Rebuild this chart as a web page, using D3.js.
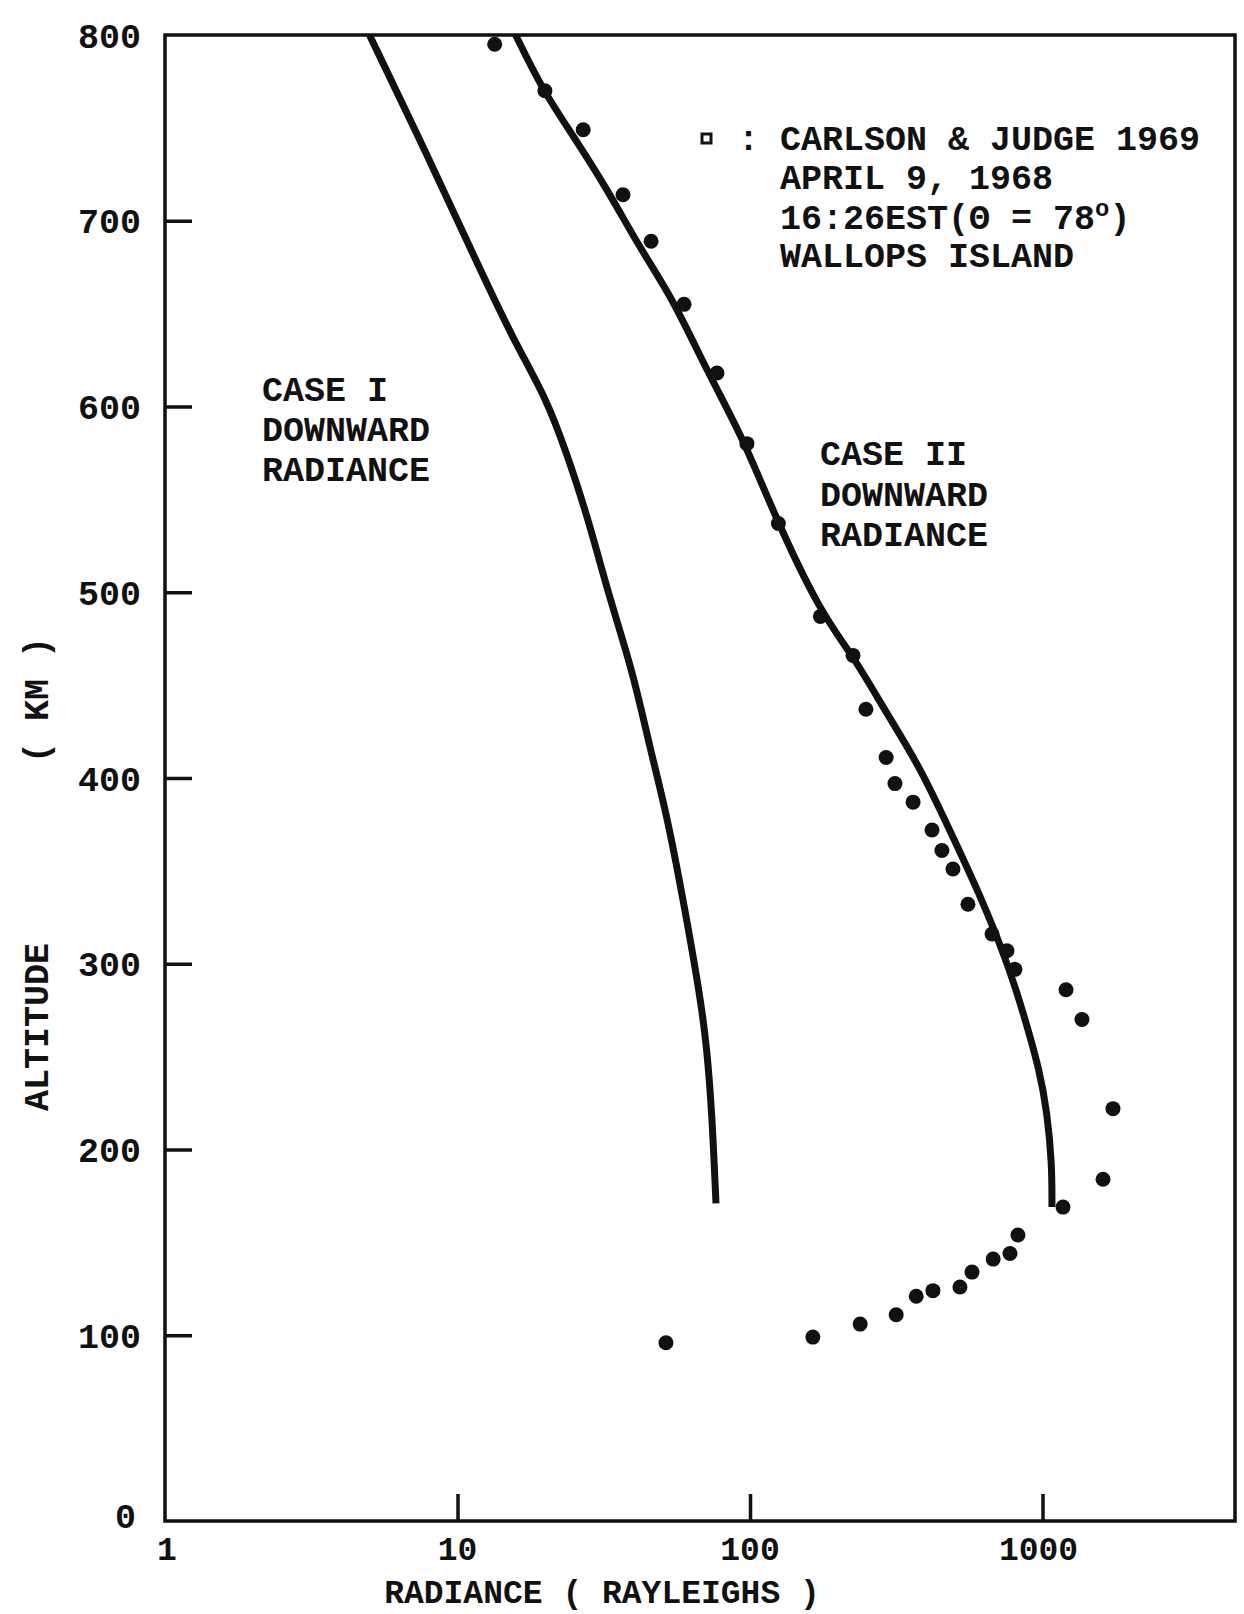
<!DOCTYPE html>
<html>
<head>
<meta charset="utf-8">
<script src="https://cdn.jsdelivr.net/npm/d3@7"></script>
<style>
  html, body { margin: 0; padding: 0; background: #fff; }
  svg { display: block; }
  text { font-family: "Liberation Mono", "DejaVu Sans Mono", monospace; font-weight: bold; fill: #111; }
</style>
</head>
<body>
<svg id="chart" width="1244" height="1614"></svg>
<script>
// ---- Data ----
const caseIAlt = [800, 735, 682, 636, 604, 574, 542, 496, 457, 416, 380, 335, 283, 254, 219, 183, 171];
const caseIRad = [5.0, 7.9, 11.3, 15.5, 20.2, 23.7, 27.7, 33.2, 39.8, 45.5, 52.0, 59.0, 67.5, 71.3, 74.1, 75.9, 76.5];

const caseIIAlt = [800, 770, 746, 717, 685, 658, 619, 583, 543, 489, 466, 434, 405, 362, 337, 301, 274, 242, 220, 193, 169];
const caseIIRad = [15.8, 19.6, 24.8, 32.5, 42.1, 54.5, 71.3, 94.7, 120, 174, 225, 295, 385, 515, 611, 757, 858, 980, 1036, 1077, 1077];

const obsAlt = [795, 770, 749, 714, 689, 655, 618, 580, 537, 487, 466, 437, 411, 397, 387, 372, 361, 351, 332, 316, 307, 297, 286, 270, 222, 184, 169, 154, 144, 141, 134, 126, 124, 121, 111, 106, 99, 96];
const obsRad = [13.4, 19.9, 26.9, 36.8, 45.9, 59.5, 77.1, 97.6, 125, 174, 225, 249, 292, 313, 361, 419, 453, 494, 556, 672, 756, 805, 1203, 1364, 1741, 1610, 1175, 824, 774, 678, 574, 522, 422, 370, 316, 238, 164, 51.6];

const xTicks = [1, 10, 100, 1000];
const xTickLabels = ["1", "10", "100", "1000"];
const yTicks = [0, 100, 200, 300, 400, 500, 600, 700, 800];

const legendLines = ["APRIL 9, 1968", null, "WALLOPS ISLAND"];
const legendTitle = ": CARLSON & JUDGE 1969";
const caseILabel = ["CASE I", "DOWNWARD", "RADIANCE"];
const caseIILabel = ["CASE II", "DOWNWARD", "RADIANCE"];
const xTitle = "RADIANCE ( RAYLEIGHS )";

// ---- Scales ----
const x = d3.scaleLog().domain([1, 4550]).range([165, 1235]);
const y = d3.scaleLinear().domain([0, 800]).range([1521, 35]);

const svg = d3.select("#chart");
svg.append("rect").attr("width", 1244).attr("height", 1614).attr("fill", "#fff");

const FS = 35;
const FSB = 33;

// ---- Frame ----
const x0 = x.range()[0], x1 = x.range()[1], yb = y(0), yt = y(800);
svg.append("rect")
  .attr("x", x0).attr("y", yt).attr("width", x1 - x0).attr("height", yb - yt)
  .attr("fill", "none").attr("stroke", "#111").attr("stroke-width", 3.5);

// ---- Y axis (inward ticks) ----
const yAxis = d3.axisRight(y).tickValues(yTicks.filter(d => d > 0 && d < 800))
  .tickSize(27).tickFormat("");
const gy = svg.append("g").attr("transform", `translate(${x0},0)`).call(yAxis);
gy.select(".domain").remove();
gy.selectAll(".tick line").attr("stroke", "#111").attr("stroke-width", 3.5);

svg.append("g").selectAll("text").data(yTicks).join("text")
  .attr("x", d => d === 0 ? 136 : 141)
  .attr("y", d => y(d) - (d === 0 ? 6 : 0))
  .attr("dy", "0.36em")
  .attr("text-anchor", "end")
  .attr("font-size", FS)
  .text(d => d);

// ---- X axis (inward ticks) ----
const xAxis = d3.axisTop(x).tickValues(xTicks.filter(d => d > 1)).tickSize(27).tickFormat("");
const gx = svg.append("g").attr("transform", `translate(0,${yb})`).call(xAxis);
gx.select(".domain").remove();
gx.selectAll(".tick line").attr("stroke", "#111").attr("stroke-width", 3.5);

svg.append("g").selectAll("text").data(xTicks).join("text")
  .attr("x", (d, i) => x(d) + (i === 0 ? 2 : (i === 3 ? -4 : 0)))
  .attr("y", 1560)
  .attr("text-anchor", "middle")
  .attr("font-size", FSB)
  .text((d, i) => xTickLabels[i]);

// ---- Axis titles ----
svg.append("text")
  .attr("x", 602).attr("y", 1603)
  .attr("text-anchor", "middle")
  .attr("font-size", FSB)
  .text(xTitle);

svg.append("text")
  .attr("transform", "translate(48,1027) rotate(-90)")
  .attr("text-anchor", "middle")
  .attr("font-size", FS)
  .text("ALTITUDE");
svg.append("text")
  .attr("transform", "translate(48,700) rotate(-90)")
  .attr("text-anchor", "middle")
  .attr("font-size", FS)
  .text("( KM )");

// ---- Curves ----
const line = d3.line()
  .x(d => x(d[1]))
  .y(d => y(d[0]))
  .curve(d3.curveBasis);

const caseI = caseIAlt.map((a, i) => [a, caseIRad[i]]);
const caseII = caseIIAlt.map((a, i) => [a, caseIIRad[i]]);

svg.append("path").datum(caseI).attr("d", line)
  .attr("fill", "none").attr("stroke", "#111").attr("stroke-width", 7)
  .attr("stroke-linejoin", "round");
svg.append("path").datum(caseII).attr("d", line)
  .attr("fill", "none").attr("stroke", "#111").attr("stroke-width", 7)
  .attr("stroke-linejoin", "round");

// ---- Observations ----
const obs = obsAlt.map((a, i) => [a, obsRad[i]]);
svg.append("g").selectAll("circle").data(obs).join("circle")
  .attr("cx", d => x(d[1]))
  .attr("cy", d => y(d[0]))
  .attr("r", 7.5)
  .attr("fill", "#111");

// ---- Annotations ----
function block(lines, x0, yStart, step) {
  svg.append("g").selectAll("text").data(lines).join("text")
    .attr("x", x0).attr("y", (d, i) => yStart + i * step)
    .attr("font-size", FS)
    .text(d => d);
}
block(caseILabel, 262, 401, 40);
block(caseIILabel, 820, 465, 40.5);

// Legend
svg.append("rect").attr("x", 702).attr("y", 134).attr("width", 9).attr("height", 9)
  .attr("fill", "#fff").attr("stroke", "#111").attr("stroke-width", 3);
svg.append("text").attr("x", 738).attr("y", 150).attr("font-size", FS).text(legendTitle);
svg.append("text").attr("x", 780).attr("y", 189).attr("font-size", FS).text(legendLines[0]);
const l3 = svg.append("text").attr("x", 780).attr("y", 229).attr("font-size", FS);
l3.append("tspan").text("16:26EST(Θ = 78");
l3.append("tspan").attr("dy", -13).attr("font-size", 24).text("o");
l3.append("tspan").attr("dy", 13).text(")");
svg.append("text").attr("x", 780).attr("y", 267).attr("font-size", FS).text(legendLines[2]);
</script>
</body>
</html>
